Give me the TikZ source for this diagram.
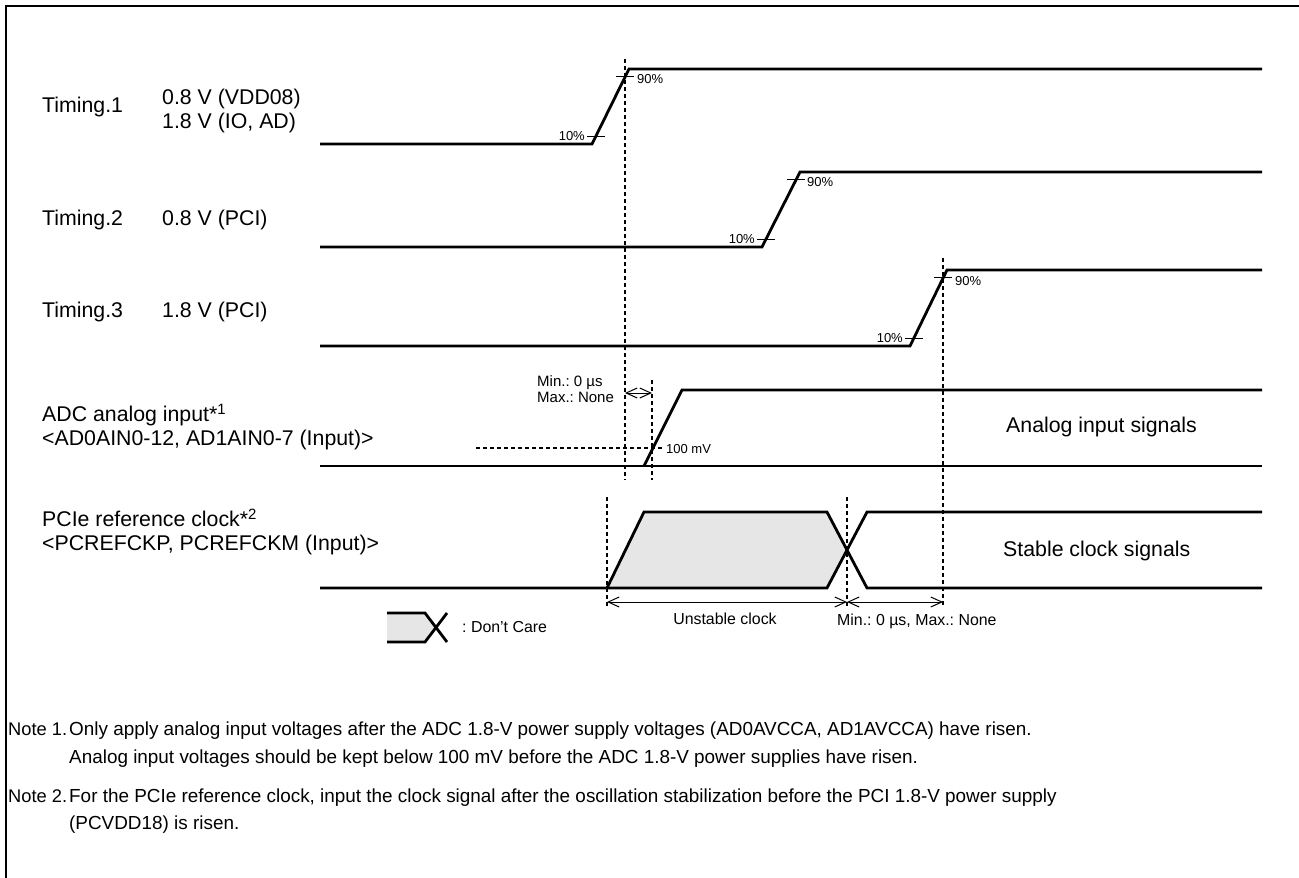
\documentclass[tikz,border=0pt]{standalone}
\usepackage{fontspec}
\setmainfont{Liberation Sans}
\usetikzlibrary{arrows.meta}
\definecolor{dcgray}{HTML}{E6E6E6}
\frenchspacing
\begin{document}
\begin{tikzpicture}[x=1pt,y=-1pt,
  sig/.style={line width=2.8pt, line join=miter, line cap=butt},
  thin/.style={line width=1pt},
  dsh/.style={line width=1.1pt, dash pattern=on 4pt off 3pt},
  dbl/.style={line width=1pt, {Straight Barb[length=11pt,width=10pt]}-{Straight Barb[length=11pt,width=10pt]}},
  big/.style={font=\fontsize{21.3}{25}\selectfont, inner sep=0pt, text height=15.2pt, text depth=0pt, anchor=west},
  note/.style={font=\fontsize{18.9}{23}\selectfont, inner sep=0pt, text height=13.5pt, text depth=0pt, anchor=west},
  notelbl/.style={font=\fontsize{18.3}{22}\selectfont, inner sep=0pt, text height=13.1pt, text depth=0pt, anchor=west},
  sml/.style={font=\fontsize{15.9}{18}\selectfont, inner sep=0pt, text height=11.3pt, text depth=0pt},
  tiny/.style={font=\fontsize{15}{17}\selectfont, inner sep=0pt, text height=10.7pt, text depth=0pt},
  pct/.style={font=\fontsize{13}{15}\selectfont, inner sep=0pt, text height=9.3pt, text depth=0pt},
]
\useasboundingbox (0,0) rectangle (1299,878);
\fill[white] (0,0) rectangle (1299,878);
% frame
\draw[line width=2pt] (6,878) -- (6,6) -- (1299,6);

% ---------- Timing.1 ----------
\node[big] (t1) at (42,105) {Timing.1};
\node[big] (t1a) at (162,97) {0.8 V (VDD08)};
\node[big] (t1b) at (162,121) {1.8 V (IO, AD)};
\draw[sig] (320,144) -- (592,144) -- (629,69) -- (1262,69);
\draw[thin] (587,136.5) -- (605,136.5);
\node[pct,anchor=east] (t1p10) at (585,135.5) {10\%};
\draw[thin] (616,76.5) -- (634,76.5);
\node[pct,anchor=west] (t1p90) at (637,79) {90\%};
\coordinate (v1t) at (625,59);
\coordinate (v1b) at (625,480);
\draw[dsh] (v1t) -- (v1b);

% ---------- Timing.2 ----------
\node[big] (t2) at (42,218) {Timing.2};
\node[big] (t2a) at (162,218) {0.8 V (PCI)};
\draw[sig] (320,247) -- (762,247) -- (800,172) -- (1262,172);
\draw[thin] (757,239.5) -- (775,239.5);
\node[pct,anchor=east] (t2p10) at (755,238.5) {10\%};
\draw[thin] (787,179.5) -- (805,179.5);
\node[pct,anchor=west] (t2p90) at (807,182) {90\%};

% ---------- Timing.3 ----------
\node[big] (t3) at (42,310) {Timing.3};
\node[big] (t3a) at (162,310) {1.8 V (PCI)};
\draw[sig] (320,346) -- (910,346) -- (947,270) -- (1262,270);
\draw[thin] (905,338.4) -- (923,338.4);
\node[pct,anchor=east] (t3p10) at (903,337.4) {10\%};
\draw[thin] (934,277.6) -- (952,277.6);
\node[pct,anchor=west] (t3p90) at (955,281) {90\%};
\coordinate (v3t) at (943,258);
\coordinate (v3b) at (943,606);
\draw[dsh] (v3t) -- (v3b);

% ---------- ADC analog input ----------
\node[big] (adc) at (42,414) {ADC analog input*\textsuperscript{1}};
\node[big] (adcb) at (42,438) {<AD0AIN0-12, AD1AIN0-7 (Input)>};
\draw[sig] (320,466) -- (1262,466);
\draw[sig] (644,466) -- (682,390) -- (1262,390);
\draw[dsh] (476,448) -- (662,448);
\node[pct,anchor=west] (mv) at (666,449) {100 mV};
\coordinate (v2t) at (652,380);
\coordinate (v2b) at (652,480);
\draw[dsh] (v2t) -- (v2b);
\draw[dbl] (625,393) -- (652,393);
\node[tiny,anchor=west] (amin) at (537,381.5) {Min.: 0 µs};
\node[tiny,anchor=west] (amax) at (537,397) {Max.: None};
\node[big] (ais) at (1006,425) {Analog input signals};

% ---------- PCIe reference clock ----------
\node[big] (pc) at (42,519) {PCIe reference clock*\textsuperscript{2}};
\node[big] (pcb) at (42,543) {<PCREFCKP, PCREFCKM (Input)>};
\fill[dcgray] (607,588) -- (644,512) -- (827,512) -- (847,550) -- (827,588) -- cycle;
\draw[sig] (320,588) -- (827,588) -- (867,512) -- (1262,512);
\draw[sig] (607,588) -- (644,512) -- (827,512) -- (867,588) -- (1262,588);
\coordinate (v4t) at (607,497);
\coordinate (v4b) at (607,606);
\coordinate (v5t) at (847,497);
\coordinate (v5b) at (847,606);
\draw[dsh] (v4t) -- (v4b);
\draw[dsh] (v5t) -- (v5b);
\draw[dbl] (607,602) -- (847,602);
\draw[dbl] (847,602) -- (943,602);
\node[sml,anchor=center] (unst) at (725,619) {Unstable clock};
\node[sml,anchor=west] (pmin) at (837,620) {Min.: 0 µs, Max.: None};
\node[big] (scs) at (1003,549) {Stable clock signals};

% ---------- legend ----------
\fill[dcgray] (387,613) -- (425,613) -- (436,627.5) -- (425,642) -- (387,642) -- cycle;
\draw[sig] (387,613) -- (425,613) -- (447,642);
\draw[sig] (387,642) -- (425,642) -- (447,613);
\node[sml,anchor=west] (dc) at (462,627) {: Don't Care};

% ---------- notes ----------
\node[notelbl] (n1) at (8,729) {Note 1.};
\node[note] (n1a) at (69,729) {Only apply analog input voltages after the ADC 1.8-V power supply voltages (AD0AVCCA, AD1AVCCA) have risen.};
\node[note] (n1b) at (69,757) {Analog input voltages should be kept below 100 mV before the ADC 1.8-V power supplies have risen.};
\node[notelbl] (n2) at (8,796) {Note 2.};
\node[note] (n2a) at (69,796) {For the PCIe reference clock, input the clock signal after the oscillation stabilization before the PCI 1.8-V power supply};
\node[note] (n2b) at (69,823) {(PCVDD18) is risen.};
\end{tikzpicture}
\end{document}
